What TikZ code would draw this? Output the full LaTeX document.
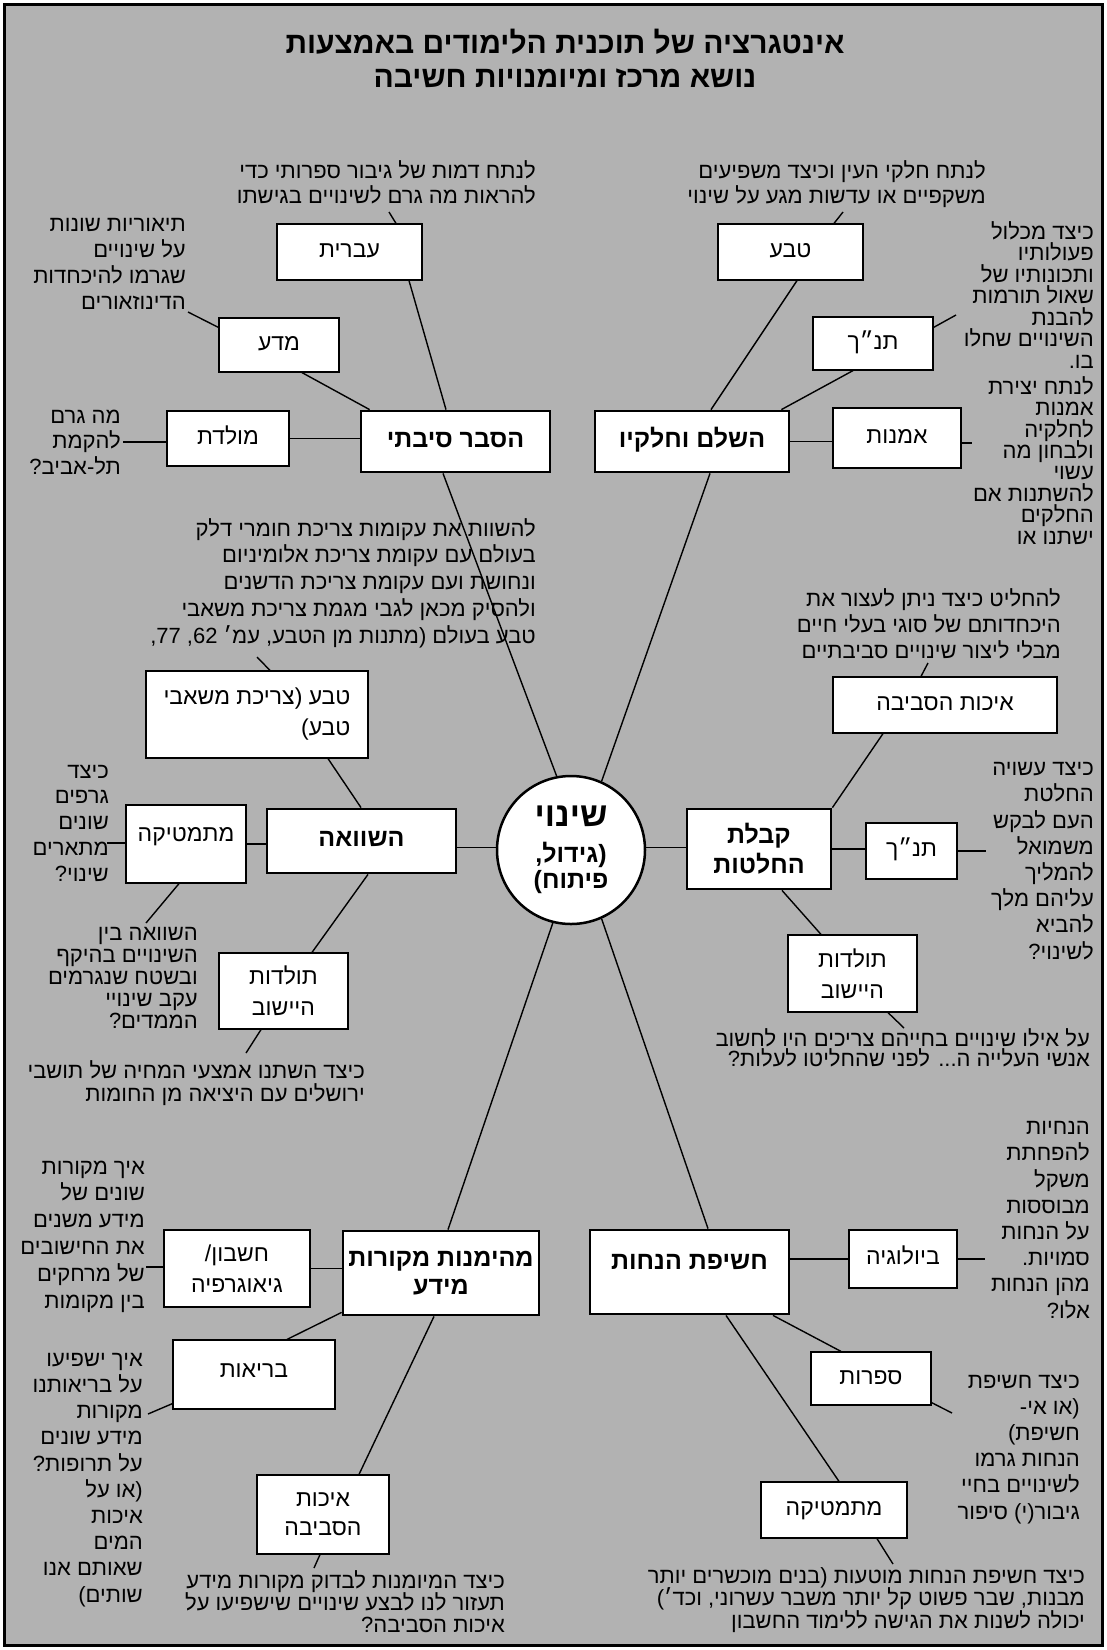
\documentclass[tikz,border=0pt]{standalone}
\usepackage{fontspec}
\usepackage{graphicx}
\setmainfont{Liberation Sans}[Script=Hebrew]
\TeXXeTstate=1
\usetikzlibrary{calc}
\newcommand{\hl}[1]{\beginR #1\endR}
\definecolor{bgc}{RGB}{178,178,178}
\tikzset{
  note/.style={align=right, anchor=base east, inner sep=0pt,
    font=\fontsize{22}{#1}\selectfont},
  sbox/.style={draw, fill=white, line width=1.2pt, inner sep=0pt, align=center,
    font=\fontsize{23}{31}\selectfont},
  mbox/.style={draw, fill=white, line width=2.8pt, inner sep=0pt, align=center,
    font=\bfseries\fontsize{25}{30}\selectfont},
  one/.style={text height=16pt, text depth=5pt},
  link/.style={line width=1.4pt},
  ttl/.style={inner sep=0pt, font=\bfseries\fontsize{30}{30}\selectfont}
}
\begin{document}
\lineskiplimit=-99pt
\lineskip=0pt
\begin{tikzpicture}[x=1pt,y=-1pt]
\useasboundingbox (0,0) rectangle (1107,1650);
\fill[white] (0,0) rectangle (1107,1650);
\draw[line width=3pt, fill=bgc] (4.5,4.5) rectangle (1102.5,1645.5);

% title
\node[ttl] (t1) at (565,42) {\hl{אינטגרציה של תוכנית הלימודים באמצעות}};
\node[ttl] (t2) at (565,78) {\hl{נושא מרכז ומיומנויות חשיבה}};

% centre
\node[draw, fill=white, circle, line width=2.5pt, minimum size=148pt, inner sep=0pt,
  align=center, font=\bfseries\fontsize{25}{26}\selectfont] (core) at (571,850)
  {{\fontsize{34}{34}\selectfont\hl{שינוי}}\\[10pt]\hl{(גידול,}\\\hl{פיתוח)}};

% main boxes
\node[mbox, one, minimum width=189pt, minimum height=61pt] (hasber) at (455.5,441.5) {\hl{הסבר סיבתי}};
\node[mbox, one, minimum width=194pt, minimum height=61pt] (hashalem) at (692,441.5) {\hl{השלם וחלקיו}};
\node[mbox, one, minimum width=189pt, minimum height=64pt] (hashvaa) at (361.5,841) {\hl{השוואה}};
\node[mbox, minimum width=144pt, minimum height=80pt] (kabalat) at (759,849) {\hl{קבלת}\\\hl{החלטות}};
\node[mbox, minimum width=196pt, minimum height=84pt, font=\bfseries\fontsize{25}{28}\selectfont] (mehemanut) at (441,1273) {\hl{מהימנות מקורות}\\\hl{מידע}};
\node[mbox, text height=15pt, text depth=21pt, minimum width=199pt, minimum height=84pt] (hasifa) at (689.5,1272) {\hl{חשיפת הנחות}};

% subject boxes
\node[sbox, one, minimum width=145pt, minimum height=56pt] (ivrit) at (349.5,252) {\hl{עברית}};
\node[sbox, one, minimum width=120pt, minimum height=54pt] (mada) at (279,345) {\hl{מדע}};
\node[sbox, one, minimum width=122pt, minimum height=55pt] (moledet) at (228,438.5) {\hl{מולדת}};
\node[sbox, one, minimum width=145pt, minimum height=56pt] (teva1) at (790.5,252) {\hl{טבע}};
\node[sbox, one, minimum width=120pt, minimum height=53pt] (tanach1) at (873,343.5) {\hl{תנ״ך}};
\node[sbox, one, minimum width=128pt, minimum height=60pt] (omanut) at (897,438) {\hl{אמנות}};
\node[sbox, align=right, minimum width=222pt, minimum height=87pt] (teva2) at (257,714.5) {\hl{טבע (צריכת משאבי}\\\hl{טבע)}};
\node[sbox, text height=15pt, text depth=21pt, minimum width=120pt, minimum height=78pt] (math1) at (186,844) {\hl{מתמטיקה}};
\node[sbox, minimum width=129pt, minimum height=76pt] (toldot1) at (283.5,991) {\hl{תולדות}\\\hl{היישוב}};
\node[sbox, one, minimum width=224pt, minimum height=56pt] (eichut1) at (945,705) {\hl{איכות הסביבה}};
\node[sbox, one, minimum width=91pt, minimum height=56pt] (tanach2) at (911.5,851) {\hl{תנ״ך}};
\node[sbox, minimum width=129pt, minimum height=77pt] (toldot2) at (852.5,973.5) {\hl{תולדות}\\\hl{היישוב}};
\node[sbox, minimum width=146pt, minimum height=77pt] (heshbon) at (237,1268.5) {\hl{חשבון/}\\\hl{גיאוגרפיה}};
\node[sbox, text height=16pt, text depth=10pt, minimum width=162pt, minimum height=69pt] (briut) at (254,1374.5) {\hl{בריאות}};
\node[sbox, minimum width=132pt, minimum height=79pt, font=\fontsize{23}{29}\selectfont] (eichut2) at (323,1514.5) {\hl{איכות}\\\hl{הסביבה}};
\node[sbox, one, minimum width=108pt, minimum height=58pt] (bio) at (903,1259) {\hl{ביולוגיה}};
\node[sbox, one, minimum width=120pt, minimum height=53pt] (sifrut) at (871,1378.5) {\hl{ספרות}};
\node[sbox, one, minimum width=146pt, minimum height=56pt] (math2) at (834,1510) {\hl{מתמטיקה}};

% notes (anchored at the baseline of their last line)
\node[note=25] (A1) at (536,203) {\hl{לנתח דמות של גיבור ספרותי כדי}\\\hl{להראות מה גרם לשינויים בגישתו}};
\node[note=26] (A2) at (186,309) {\hl{תיאוריות שונות}\\\hl{על שינויים}\\\hl{שגרמו להיכחדות}\\\hl{הדינוזאורים}};
\node[note=25.5] (A3) at (121,474) {\hl{מה גרם}\\\hl{להקמת}\\\hl{תל-אביב?}};
\node[note=25] (B1) at (986,203) {\hl{לנתח חלקי העין וכיצד משפיעים}\\\hl{משקפיים או עדשות מגע על שינוי}};
\node[note=21.5] (B2) at (1094,368) {\hl{כיצד מכלול}\\\hl{פעולותיו}\\\hl{ותכונותיו של}\\\hl{שאול תורמות}\\\hl{להבנת}\\\hl{השינויים שחלו}\\\hl{בו.}};
\node[note=21.4] (B3) at (1094,544) {\hl{לנתח יצירת}\\\hl{אמנות}\\\hl{לחלקיה}\\\hl{ולבחון מה}\\\hl{עשוי}\\\hl{להשתנות אם}\\\hl{החלקים}\\\hl{ישתנו או}};
\node[note=26.7] (C1) at (536,643) {\hl{להשוות את עקומות צריכת חומרי דלק}\\\hl{בעולם עם עקומת צריכת אלומיניום}\\\hl{ונחושת ועם עקומת צריכת הדשנים}\\\hl{ולהסיק מכאן לגבי מגמת צריכת משאבי}\\\hl{טבע בעולם (מתנות מן הטבע, עמ׳ \beginL62\endL, \beginL77\endL,}};
\node[note=25.7] (C2) at (109,881) {\hl{כיצד}\\\hl{גרפים}\\\hl{שונים}\\\hl{מתארים}\\\hl{שינוי?}};
\node[note=21.8] (C3) at (198,1028) {\hl{השוואה בין}\\\hl{השינויים בהיקף}\\\hl{ובשטח שנגרמים}\\\hl{עקב שינויי}\\\hl{הממדים?}};
\node[note=23] (C4) at (365,1101) {\hl{כיצד השתנו אמצעי המחיה של תושבי}\\\hl{ירושלים עם היציאה מן החומות}};
\node[note=26] (D1) at (1061,658) {\hl{להחליט כיצד ניתן לעצור את}\\\hl{היכחדותם של סוגי בעלי חיים}\\\hl{מבלי ליצור שינויים סביבתיים}};
\node[note=26.2] (D2) at (1094,959) {\hl{כיצד עשויה}\\\hl{החלטת}\\\hl{העם לבקש}\\\hl{משמואל}\\\hl{להמליך}\\\hl{עליהם מלך}\\\hl{להביא}\\\hl{לשינוי?}};
\node[note=20] (D3) at (1090,1066) {\hl{על אילו שינויים בחייהם צריכים היו לחשוב}\\\hl{אנשי העלייה ה... לפני שהחליטו לעלות?}};
\node[note=26.8] (E1) at (145,1308) {\hl{איך מקורות}\\\hl{שונים של}\\\hl{מידע משנים}\\\hl{את החישובים}\\\hl{של מרחקים}\\\hl{בין מקומות}};
\node[note=26.2] (G1) at (143,1602) {\hl{איך ישפיעו}\\\hl{על בריאותנו}\\\hl{מקורות}\\\hl{מידע שונים}\\\hl{על תרופות?}\\\hl{(או על}\\\hl{איכות}\\\hl{המים}\\\hl{שאותם אנו}\\\hl{שותים)}};
\node[note=22] (G2) at (505,1632) {\hl{כיצד המיומנות לבדוק מקורות מידע}\\\hl{תעזור לנו לבצע שינויים שישפיעו על}\\\hl{איכות הסביבה?}};
\node[note=26.2] (F1) at (1090,1318) {\hl{הנחיות}\\\hl{להפחתת}\\\hl{משקל}\\\hl{מבוססות}\\\hl{על הנחות}\\\hl{סמויות.}\\\hl{מהן הנחות}\\\hl{אלו?}};
\node[note=26.2] (F2) at (1080,1519) {\hl{כיצד חשיפת}\\\hl{(או אי-}\\\hl{חשיפת)}\\\hl{הנחות גרמו}\\\hl{לשינויים בחיי}\\\hl{גיבור(י) סיפור}};
\node[note=22.5] (F3) at (1085,1628) {\hl{כיצד חשיפת הנחות מוטעות (בנים מוכשרים יותר}\\\hl{מבנות, שבר פשוט קל יותר משבר עשרוני, וכד׳)}\\\hl{יכולה לשנות את הגישה ללימוד החשבון}};

% connectors
\coordinate (a1e) at (389,212);
\coordinate (a2e) at (188,312);
\coordinate (a3e) at (123,442);
\coordinate (b1e) at (843,212);
\coordinate (b2e) at (956,315);
\coordinate (b3e) at (972,443);
\coordinate (c1e) at (257,657);
\coordinate (c2e) at (107,843);
\coordinate (c3e) at (146,923);
\coordinate (c4e) at (246,1053);
\coordinate (d1e) at (928,663);
\coordinate (d2e) at (986,851);
\coordinate (d3e) at (904,1028);
\coordinate (e1e) at (146,1267);
\coordinate (g1e) at (148,1414);
\coordinate (g2e) at (314,1568);
\coordinate (f1e) at (985,1259);
\coordinate (f2e) at (952,1413);
\coordinate (f3e) at (893,1564);

\draw[link] ($(ivrit.north)+(46.5,0)$) -- (a1e);
\draw[link] ($(ivrit.south)+(59.5,0)$) -- ($(hasber.north)+(-9.5,0)$);
\draw[link] (a2e) -- ($(mada.north west)+(0,10)$);
\draw[link] ($(mada.south)+(23,0)$) -- ($(hasber.north west)+(10,0)$);
\draw[link] (a3e) -- (a3e -| moledet.west);
\draw[link] (moledet.east) -- (moledet.east -| hasber.west);
\draw[link] ($(hasber.south)+(-12.5,0)$) -- (core.101);
\draw[link] (b1e) -- ($(teva1.north)+(43.5,0)$);
\draw[link] ($(teva1.south)+(6.5,0)$) -- ($(hashalem.north)+(19,0)$);
\draw[link] ($(tanach1.north east)+(0,11)$) -- (b2e);
\draw[link] ($(tanach1.south)+(-20,0)$) -- ($(hashalem.north east)+(-9,0)$);
\draw[link] (hashalem.east) -- (hashalem.east -| omanut.west);
\draw[link] (b3e -| omanut.east) -- (b3e);
\draw[link] ($(hashalem.south)+(18,0)$) -- (core.66);

\draw[link] (c1e) -- ($(teva2.north)+(13,0)$);
\draw[link] ($(teva2.south)+(71,0)$) -- ($(hashvaa.north)+(-0.5,0)$);
\draw[link] (c2e) -- (c2e -| math1.west);
\draw[link] (math1.east) -- (math1.east -| hashvaa.west);
\draw[link] (core.178) -- (core.178 -| hashvaa.east);
\draw[link] ($(math1.south)+(-7,0)$) -- (c3e);
\draw[link] ($(hashvaa.south)+(6.5,0)$) -- ($(toldot1.north)+(28.5,0)$);
\draw[link] ($(toldot1.south)+(-22.5,0)$) -- (c4e);

\draw[link] (d1e) -- ($(eichut1.north)+(-24,0)$);
\draw[link] (kabalat.north east) -- ($(eichut1.south)+(-62,0)$);
\draw[link] (core.2) -- (core.2 -| kabalat.west);
\draw[link] (kabalat.east) -- (kabalat.east -| tanach2.west);
\draw[link] (tanach2.east) -- (d2e);
\draw[link] ($(kabalat.south)+(23,0)$) -- ($(toldot2.north)+(-31.5,0)$);
\draw[link] ($(toldot2.south)+(35.5,0)$) -- (d3e);

\draw[link] (core.256) -- ($(mehemanut.north)+(7,0)$);
\draw[link] (e1e) -- (e1e -| heshbon.west);
\draw[link] (heshbon.east) -- (heshbon.east -| mehemanut.west);
\draw[link] ($(mehemanut.south west)+(0,-4)$) -- ($(briut.north)+(33,0)$);
\draw[link] ($(briut.south west)+(0,-6)$) -- (g1e);
\draw[link] ($(mehemanut.south)+(-7,0)$) -- ($(eichut2.north)+(36,0)$);
\draw[link] ($(eichut2.south)+(-3,0)$) -- (g2e);

\draw[link] (core.294) -- ($(hasifa.north)+(18.5,0)$);
\draw[link] (bio.west -| hasifa.east) -- (bio.west);
\draw[link] (bio.east) -- (f1e);
\draw[link] ($(hasifa.south)+(83.5,0)$) -- ($(sifrut.north)+(-30,0)$);
\draw[link] ($(sifrut.south east)+(0,-3)$) -- (f2e);
\draw[link] ($(hasifa.south)+(36.5,0)$) -- ($(math2.north)+(5,0)$);
\draw[link] ($(math2.south)+(43,0)$) -- (f3e);
\end{tikzpicture}
\end{document}
